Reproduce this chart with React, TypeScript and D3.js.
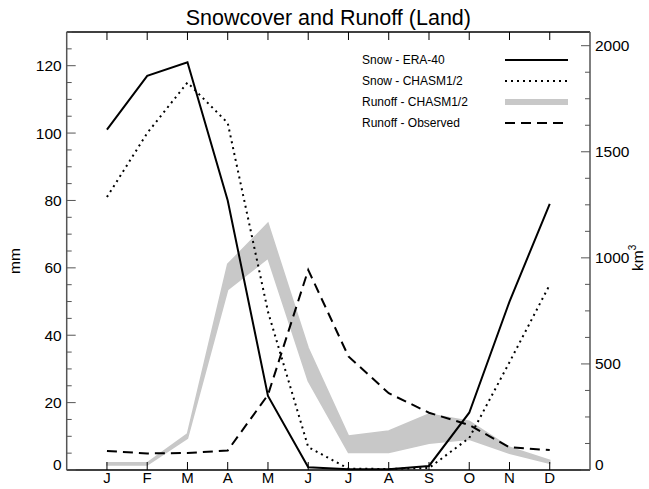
import React from "react";
import * as d3 from "d3";

const months = ["J", "F", "M", "A", "M", "J", "J", "A", "S", "O", "N", "D"];
const snowEra = [101, 117, 121, 80, 22, 0.8, 0.2, 0.2, 1.2, 17, 50, 79];
const snowChasm = [81, 100, 115, 103, 47, 6.8, 0.4, 0.3, 0.6, 9.5, 32, 55];
const runoffLow = [24, 24, 150, 850, 998, 420, 82, 82, 126, 145, 79, 32];
const runoffHigh = [34, 34, 170, 970, 1163, 575, 160, 184, 264, 230, 107, 46];
const runoffObs = [90, 78, 80, 92, 354, 943, 535, 362, 270, 212, 107, 94];
const leftTicks = [0, 20, 40, 60, 80, 100, 120];
const rightTicks = [0, 500, 1000, 1500, 2000];
const legendItems = ["Snow - ERA-40", "Snow - CHASM1/2", "Runoff - CHASM1/2", "Runoff - Observed"];

const W = 649, H = 489;
const L = 66.7, R = 590, T = 32, B = 470;
const FONT = "'Liberation Sans', Arial, Helvetica, sans-serif";

export default function App() {
  const x = d3.scaleLinear().domain([0, 13]).range([L, R]);
  const yL = d3.scaleLinear().domain([0, 130]).range([B, T]);
  const yR = d3.scaleLinear().domain([0, 2000 * (B - T) / (B - 45.7)]).range([B, T]);
  const idx = months.map((_, i) => i + 1);

  const lineL = d3.line<number>().x((_, i) => x(i + 1)).y((d) => yL(d));
  const lineR = d3.line<number>().x((_, i) => x(i + 1)).y((d) => yR(d));
  const area = d3.area<number>().x((_, i) => x(i + 1)).y0((_, i) => yR(runoffLow[i])).y1((_, i) => yR(runoffHigh[i]));

  const leftMinor = d3.range(0, 131, 5).filter((v) => v % 20 !== 0);
  const rightMinor = d3.range(0, 2064, 125).filter((v) => v % 500 !== 0);

  const legX0 = 362, legLine0 = 505, legLine1 = 568;
  const legY = [60, 81, 102, 123];

  return (
    <svg width={W} height={H} style={{ position: "absolute", left: 0, top: 0, background: "#fff" }} fontFamily={FONT}>
      <rect x={0} y={0} width={W} height={H} fill="#fff" />
      <text x={(L + R) / 2} y={25} textAnchor="middle" fontSize={21.5}>Snowcover and Runoff (Land)</text>

      {/* runoff band */}
      <path d={area(runoffLow) || ""} fill="#c8c8c8" stroke="#c8c8c8" strokeWidth={1.5} />
      {/* lines */}
      <path d={lineR(runoffObs) || ""} fill="none" stroke="#000" strokeWidth={2} strokeDasharray="10,6" />
      <path d={lineL(snowChasm) || ""} fill="none" stroke="#000" strokeWidth={2} strokeDasharray="2,4" />
      <path d={lineL(snowEra) || ""} fill="none" stroke="#000" strokeWidth={2} />

      {/* frame */}
      <line x1={L} x2={R} y1={T} y2={T} stroke="#000" strokeWidth={1.3} />
      <line x1={L} x2={R} y1={B} y2={B} stroke="#000" strokeWidth={1.5} />
      <line x1={L} x2={L} y1={T} y2={B} stroke="#555" strokeWidth={1.5} />
      <line x1={R} x2={R} y1={T} y2={B} stroke="#555" strokeWidth={1.5} />

      {/* x ticks */}
      {idx.map((m, i) => (
        <g key={"x" + i}>
          <line x1={x(m)} x2={x(m)} y1={B} y2={B - 8} stroke="#000" strokeWidth={1} />
          <line x1={x(m)} x2={x(m)} y1={T} y2={T + 8} stroke="#000" strokeWidth={1} />
          <text x={x(m)} y={B + 13} textAnchor="middle" fontSize={15}>{months[i]}</text>
        </g>
      ))}

      {/* left axis */}
      {leftTicks.map((v) => (
        <g key={"l" + v}>
          <line x1={L} x2={L + 9} y1={yL(v)} y2={yL(v)} stroke="#555" strokeWidth={1} />
          <text x={L - 5} y={(v === 0 ? yL(v) - 6 : yL(v)) + 5.5} textAnchor="end" fontSize={15.5}>{v}</text>
        </g>
      ))}
      {leftMinor.map((v) => (
        <line key={"lm" + v} x1={L} x2={L + 5} y1={yL(v)} y2={yL(v)} stroke="#555" strokeWidth={1} />
      ))}
      <text transform={`translate(20,${(T + B) / 2 + 10}) rotate(-90)`} textAnchor="middle" fontSize={15.5}>mm</text>

      {/* right axis */}
      {rightTicks.map((v) => (
        <g key={"r" + v}>
          <line x1={R} x2={R - 9} y1={yR(v)} y2={yR(v)} stroke="#555" strokeWidth={1} />
          <text x={R + 5} y={(v === 0 ? yR(v) - 6 : yR(v)) + 5.5} textAnchor="start" fontSize={15.5}>{v}</text>
        </g>
      ))}
      {rightMinor.map((v) => (
        <line key={"rm" + v} x1={R} x2={R - 5} y1={yR(v)} y2={yR(v)} stroke="#555" strokeWidth={1} />
      ))}
      <text transform={`translate(643,${yR(1000)}) rotate(-90)`} textAnchor="middle" fontSize={15.5}>
        km<tspan dy={-7} fontSize={10}>3</tspan>
      </text>

      {/* legend */}
      {legendItems.map((t, i) => (
        <g key={"lg" + i}>
          <text x={legX0} y={legY[i] + 4} fontSize={12}>{t}</text>
          <line x1={legLine0} x2={legLine1} y1={legY[i]} y2={legY[i]}
            stroke={i === 2 ? "#c8c8c8" : "#000"}
            strokeWidth={i === 2 ? 6 : 2}
            strokeDasharray={i === 1 ? "2,4" : i === 3 ? "10,6" : undefined} />
        </g>
      ))}
    </svg>
  );
}
